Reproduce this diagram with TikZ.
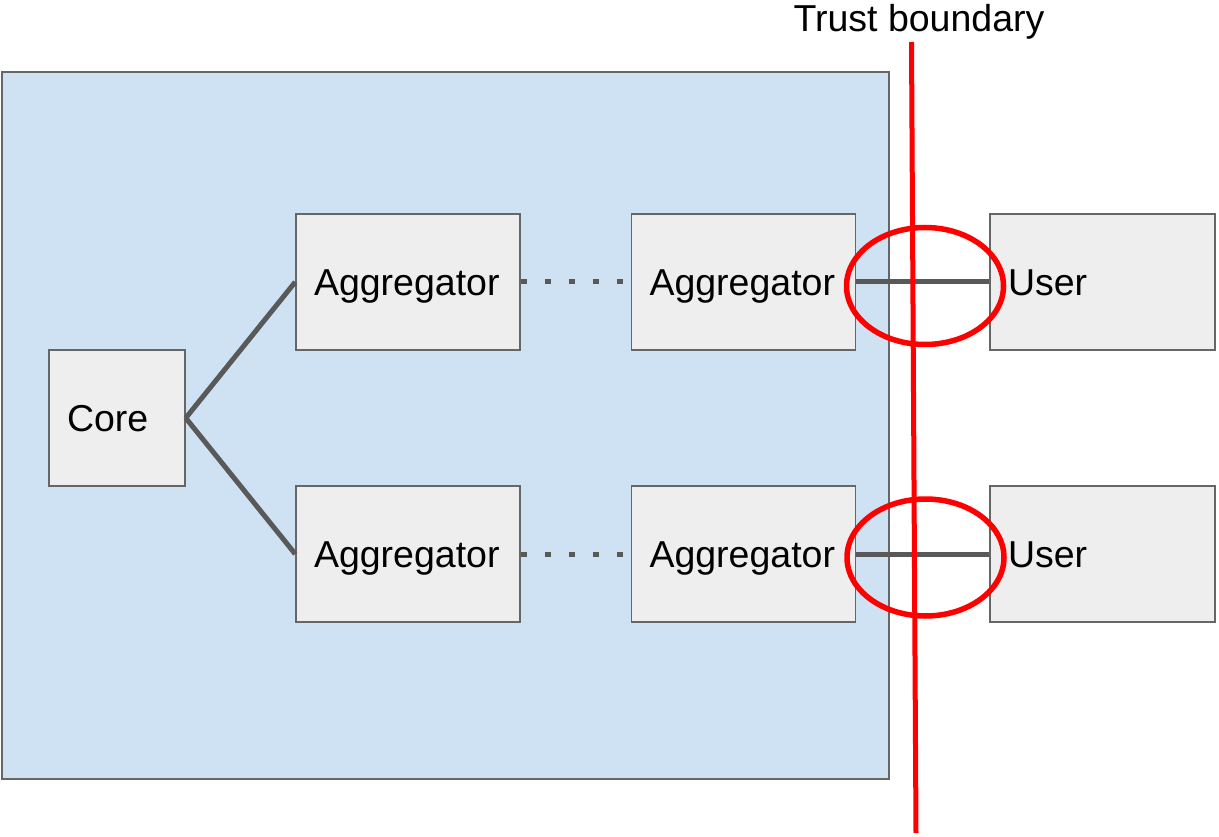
\documentclass[tikz,border=0pt]{standalone}
\usepackage{fontspec}
\setmainfont{Liberation Sans}
\usetikzlibrary{shapes.geometric}

\definecolor{zoneblue}{HTML}{CFE2F3}
\definecolor{boxfill}{HTML}{EEEEEE}
\definecolor{boxline}{HTML}{666666}
\definecolor{linkgray}{HTML}{595959}
\definecolor{alertred}{HTML}{FF0000}

\tikzset{
  lbl/.style={font=\fontsize{37.5}{45}\selectfont, text height=27pt, text depth=0pt},
  unit/.style={lbl, draw=boxline, line width=1.5pt, fill=boxfill,
    minimum height=136pt, inner ysep=0pt, inner xsep=18pt, align=left},
  core/.style={unit, minimum width=136pt, text width=100pt},
  agg/.style={unit, minimum width=224pt, text width=188pt},
  user/.style={unit, minimum width=225pt, text width=189pt},
  link/.style={draw=linkgray, line width=5pt},
  dotlink/.style={draw=linkgray, line width=5pt, dash pattern=on 6pt off 18pt},
  boundary/.style={draw=alertred, line width=5pt},
  crossing/.style={draw=alertred, line width=5.5pt, ellipse, minimum width=157pt,
    minimum height=117pt, inner sep=0pt}
}

\begin{document}
\begin{tikzpicture}[x=1pt, y=-1pt]
  \useasboundingbox (0,0) rectangle (1219,837);

  % trusted zone
  \node[draw=boxline, line width=2pt, fill=zoneblue, minimum width=887pt,
        minimum height=707pt, inner sep=0pt] (zone) at (445,425.5) {};

  % components
  \node[core] (core) at (117,418) {Core};
  \node[agg] (a1) at (408,282) {Aggregator};
  \node[agg] (a2) at (743.5,282) {Aggregator};
  \node[agg] (b1) at (408,554) {Aggregator};
  \node[agg] (b2) at (743.5,554) {Aggregator};
  \node[user] (u1) at (1102.5,282) {User};
  \node[user] (u2) at (1102.5,554) {User};

  % connections
  \draw[link] (core.east) -- (a1.west);
  \draw[link] (core.east) -- (b1.west);
  \draw[dotlink] (a1.east) -- (a2.west);
  \draw[dotlink] (b1.east) -- (b2.west);
  \draw[link] (a2.east) -- (u1.west);
  \draw[link] (b2.east) -- (u2.west);

  % trust boundary
  \node[lbl, inner sep=0pt] (tblabel) at (919,18) {Trust boundary};
  \coordinate (tbtop) at (911.5,42);
  \coordinate (tbbot) at (916,833);
  \draw[boundary] (tbtop) -- (tbbot);

  % boundary crossings
  \node[crossing] (c1) at (925,286) {};
  \node[crossing] (c2) at (925.5,557.5) {};
\end{tikzpicture}
\end{document}
